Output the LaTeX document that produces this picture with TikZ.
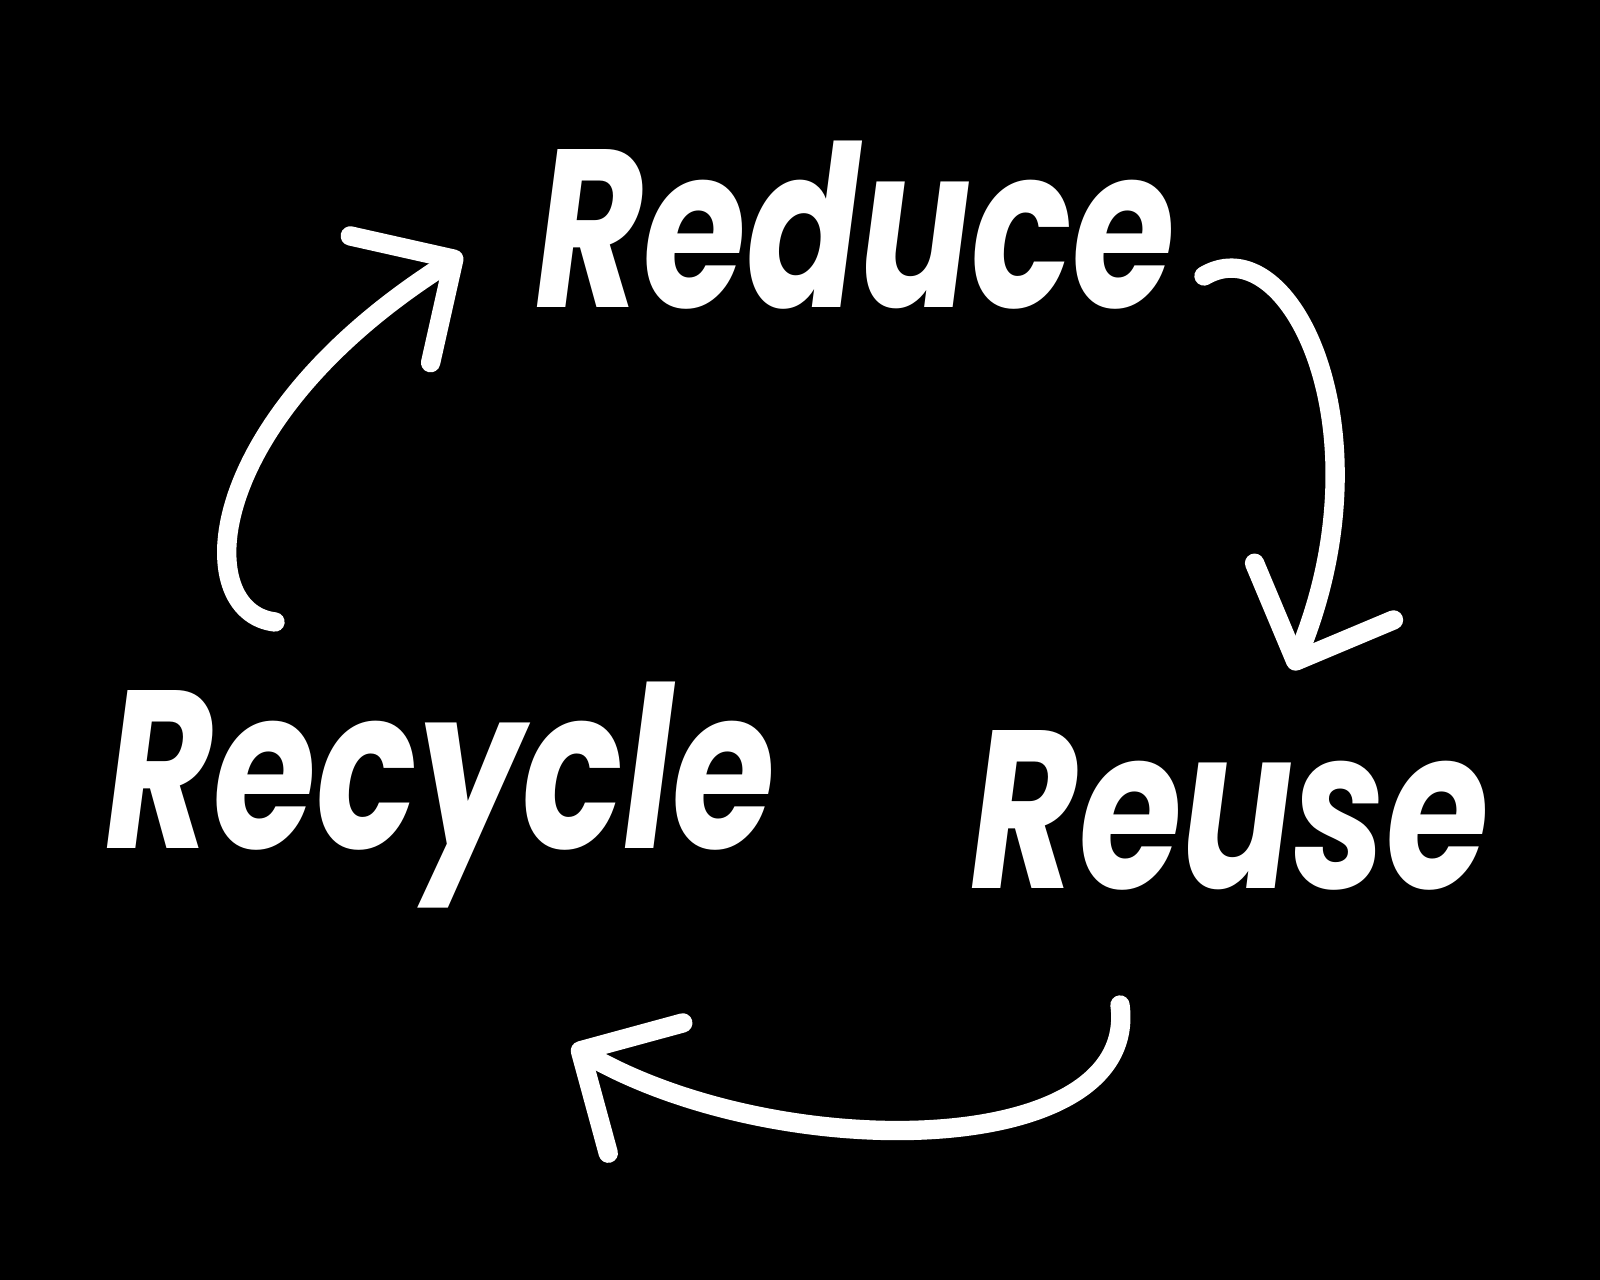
\documentclass[tikz,border=0pt]{standalone}
\usepackage{fontspec}
\setmainfont{Poppins}
\usetikzlibrary{arrows.meta}

\begin{document}
\begin{tikzpicture}[
    x=0.01cm, y=-0.01cm,
    every node/.style={text=white, font=\fontsize{64}{70}\selectfont\bfseries\itshape, inner sep=0pt},
    cycle arrow/.style={draw=white, line width=5.5pt, line cap=round,
        -{Straight Barb[length=7.5mm, width=15mm, line width=5.5pt, line cap=round, round]}}
]

% ---------------- Frame ----------------
\fill[black] (0,0) rectangle (1600,1280);
\useasboundingbox (0,0) rectangle (1600,1280);

% ---------------- Words ----------------
\node[xscale=0.74] (red) at (855,225) {Reduce};
\node[xscale=0.74] (reu) at (1230,810) {Reuse};
\node[xscale=0.74] (rec) at (440,795) {Recycle};

% ---------------- Arrow ends ----------------
\coordinate (a1) at (275,622);
\coordinate (b1) at (462,254);
\coordinate (a2) at (1204,276);
\coordinate (b2) at (1292,670);
\coordinate (a3) at (1120,1005);
\coordinate (b3) at (572,1046);

% ---------------- Arrows ----------------
\draw[cycle arrow] (a1) .. controls (190,612) and (200,420) .. (b1);
\draw[cycle arrow] (a2) .. controls (1290,225) and (1390,430) .. (b2);
\draw[cycle arrow] (a3) .. controls (1140,1160) and (780,1165) .. (b3);

\end{tikzpicture}
\end{document}
